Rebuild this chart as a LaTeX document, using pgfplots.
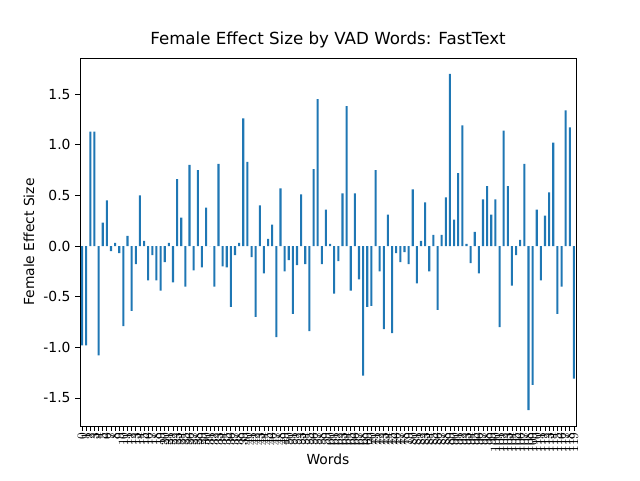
\documentclass[border=0pt]{standalone}
\usepackage{pgfplots}
\pgfplotsset{compat=1.18}
\usepackage{fontspec}
\setmainfont{DejaVu Sans}
\definecolor{mplblue}{HTML}{1F77B4}
\begin{document}
\begin{tikzpicture}
\path[use as bounding box] (0,0) rectangle (480pt,360pt);
\begin{axis}[at={(60pt,40.5pt)}, anchor=south west, scale only axis,
 width=372pt, height=276pt,
 xmin=-0.5, xmax=119.5, ymin=-1.777, ymax=1.856,
 axis line style={line width=0.6pt},
 tick align=outside, major tick length=3.6pt, tick style={black, line width=0.6pt},
 xtick={0,...,119}, xticklabel style={rotate=90, anchor=east, font=\fontsize{10.4}{12}\selectfont, inner sep=1pt},
 ytick={-1.5,-1,-0.5,0,0.5,1,1.5},
 yticklabel style={/pgf/number format/fixed, /pgf/number format/fixed zerofill, /pgf/number format/precision=1, /pgf/number format/assume math mode=true, font=\fontsize{10.4}{12}\selectfont},
 xtick pos=bottom, ytick pos=left,
 title={Female Effect Size by VAD Words: FastText},
 title style={font=\fontsize{12.5}{14}\selectfont, yshift=-2pt},
 xlabel={Words}, ylabel={Female Effect Size},
 label style={font=\fontsize{10.4}{12}\selectfont},
 xlabel style={yshift=3pt},
]
\addplot[ybar, bar width=0.5, fill=mplblue, draw=none] coordinates {
(0,-0.98)(1,-0.98)(2,1.13)(3,1.13)(4,-1.08)(5,0.23)(6,0.45)(7,-0.05)(8,0.03)(9,-0.07)
(10,-0.79)(11,0.10)(12,-0.64)(13,-0.18)(14,0.50)(15,0.05)(16,-0.34)(17,-0.09)(18,-0.34)(19,-0.44)
(20,-0.16)(21,0.03)(22,-0.36)(23,0.66)(24,0.28)(25,-0.40)(26,0.80)(27,-0.24)(28,0.75)(29,-0.21)
(30,0.38)(31,0.0)(32,-0.40)(33,0.81)(34,-0.20)(35,-0.21)(36,-0.60)(37,-0.09)(38,0.03)(39,1.26)
(40,0.83)(41,-0.11)(42,-0.70)(43,0.40)(44,-0.27)(45,0.07)(46,0.21)(47,-0.90)(48,0.57)(49,-0.25)
(50,-0.14)(51,-0.67)(52,-0.19)(53,0.51)(54,-0.18)(55,-0.84)(56,0.76)(57,1.45)(58,-0.18)(59,0.36)
(60,0.02)(61,-0.47)(62,-0.15)(63,0.52)(64,1.38)(65,-0.44)(66,0.52)(67,-0.33)(68,-1.28)(69,-0.60)
(70,-0.59)(71,0.75)(72,-0.25)(73,-0.82)(74,0.31)(75,-0.86)(76,-0.07)(77,-0.16)(78,-0.06)(79,-0.18)
(80,0.56)(81,-0.37)(82,0.05)(83,0.43)(84,-0.25)(85,0.11)(86,-0.63)(87,0.11)(88,0.48)(89,1.70)
(90,0.26)(91,0.72)(92,1.19)(93,0.02)(94,-0.17)(95,0.14)(96,-0.27)(97,0.46)(98,0.59)(99,0.31)
(100,0.46)(101,-0.80)(102,1.14)(103,0.59)(104,-0.39)(105,-0.09)(106,0.06)(107,0.81)(108,-1.62)(109,-1.37)
(110,0.36)(111,-0.34)(112,0.30)(113,0.53)(114,1.02)(115,-0.67)(116,-0.40)(117,1.34)(118,1.17)(119,-1.31)
};
\end{axis}
\end{tikzpicture}
\end{document}
